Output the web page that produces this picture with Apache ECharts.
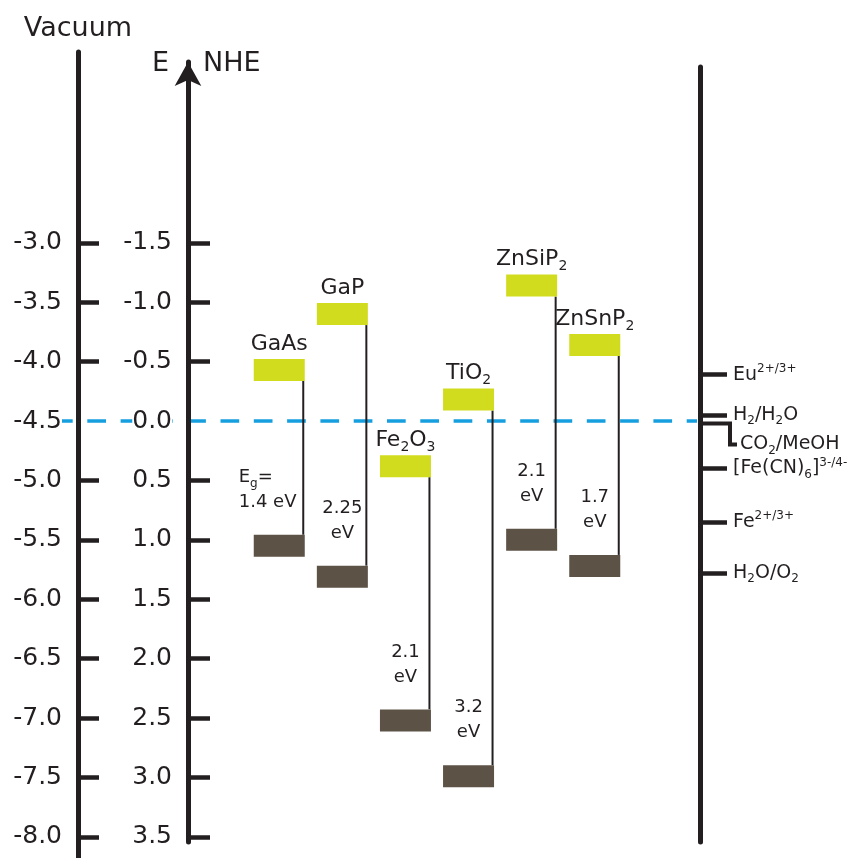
<!DOCTYPE html>
<html><head><meta charset="utf-8">
<script src="https://cdn.jsdelivr.net/npm/echarts@6/dist/echarts.min.js"></script>
<style>html,body{margin:0;padding:0;background:#fff}#c{width:849px;height:858px}</style>
</head><body><div id="c"></div>
<script>
// ---- data (potentials in V vs NHE) ----
const materials = ['GaAs', 'GaP', 'Fe2O3', 'TiO2', 'ZnSiP2', 'ZnSnP2'];
const materialLabels = ['GaAs', 'GaP', 'Fe{s|2}O{s|3}', 'TiO{s|2}', 'ZnSiP{s|2}', 'ZnSnP{s|2}'];
const cbNHE = [-0.43, -0.90, 0.38, -0.18, -1.14, -0.64];
const vbNHE = [1.05, 1.31, 2.52, 2.99, 1.00, 1.22];
const gapEV = ['1.4', '2.25', '2.1', '3.2', '2.1', '1.7'];
const vacuumTicks = [-3.0, -3.5, -4.0, -4.5, -5.0, -5.5, -6.0, -6.5, -7.0, -7.5, -8.0];
const nheTicks = [-1.5, -1.0, -0.5, 0.0, 0.5, 1.0, 1.5, 2.0, 2.5, 3.0, 3.5];
const redoxLabels = ['Eu{sup|2+/3+}', 'H{sub|2}/H{sub|2}O', 'CO{sub|2}/MeOH', '[Fe(CN){sub|6}]{sup|3-/4-}', 'Fe{sup|2+/3+}', 'H{sub|2}O/O{sub|2}'];
const redoxNHE = [-0.39, -0.05, 0.02, 0.40, 0.85, 1.28];
const bracketIndex = 2;          // CO2/MeOH is labelled through a bracket leader
const NHE_OFFSET = -4.5;         // vacuum energy of NHE = 0

// ---- layout helpers ----
const FONT = 'DejaVu Sans';
const INK = '#231f20';
const PX = 118.8, Y0 = 421;      // px per eV, pixel row of NHE 0
const toVac = n => NHE_OFFSET - n;
function vRange(top, bottom) {
  return { min: NHE_OFFSET - (bottom - Y0) / PX, max: NHE_OFFSET + (Y0 - top) / PX };
}
const fmt1 = v => { const r = Math.round(v * 10) / 10; return (Math.abs(r) < 1e-9 ? 0 : r).toFixed(1); };

const grids = [
  { left: 78, top: 52, width: 10, height: 806 },     // vacuum axis
  { left: 188, top: 62, width: 10, height: 780 },    // NHE axis
  { left: 690, top: 67, width: 10, height: 775 },    // redox axis
  { left: 247.7, top: 52, width: 378.6, height: 806 }, // semiconductors
  { left: 54, top: 52, width: 643, height: 806 }     // NHE 0 dashed level
].map(g => Object.assign({ outerBoundsMode: 'none', containLabel: false, show: false }, g));

const rVac = vRange(52, 858), rNhe = vRange(62, 842), rRed = vRange(67, 842);
const vacTickVals = vacuumTicks.filter(v => v !== NHE_OFFSET);
const nheVac = nheTicks.map(toVac);
const nheTickVals = nheTicks.filter(v => v !== 0).map(toVac);
const redoxVac = redoxNHE.map(toVac);
const redoxAxisVals = redoxVac.filter((v, i) => i !== bracketIndex);

const supSub = {
  sup: { fontSize: 12, fontFamily: FONT, color: INK, verticalAlign: 'top', lineHeight: 14 },
  sub: { fontSize: 12, fontFamily: FONT, color: INK, verticalAlign: 'bottom', lineHeight: 6 }
};

const hidden = { show: false };
const option = {
  animation: false,
  grid: grids,
  xAxis: [
    { gridIndex: 0, type: 'value', min: 0, max: 1, show: false },
    { gridIndex: 1, type: 'value', min: 0, max: 1, show: false },
    { gridIndex: 2, type: 'value', min: 0, max: 1, show: false },
    { gridIndex: 3, type: 'category', data: materials, show: false, boundaryGap: true },
    { gridIndex: 4, type: 'value', min: 0, max: 1, show: false }
  ],
  yAxis: [
    {
      gridIndex: 0, type: 'value', min: rVac.min, max: rVac.max, position: 'left', z: 3,
      name: 'Vacuum', nameLocation: 'end', nameGap: 10, nameMoveOverlap: false,
      nameTextStyle: { fontSize: 27, fontFamily: FONT, color: INK, align: 'center' },
      axisLine: { show: true, onZero: false, lineStyle: { color: INK, width: 5 } },
      axisTick: { show: true, inside: true, length: 21, customValues: vacTickVals, lineStyle: { color: INK, width: 4.5 } },
      axisLabel: { show: true, customValues: vacuumTicks, formatter: v => fmt1(v), margin: 16,
        fontSize: 25, fontFamily: FONT, color: INK, backgroundColor: '#fff' },
      splitLine: hidden
    },
    {
      gridIndex: 1, type: 'value', min: rNhe.min, max: rNhe.max, position: 'left', z: 3,
      axisLine: { show: true, onZero: false, symbol: ['none', 'arrow'], symbolSize: [20, 24], lineStyle: { color: INK, width: 5 } },
      axisTick: { show: true, inside: true, length: 22, customValues: nheTickVals, lineStyle: { color: INK, width: 4.5 } },
      axisLabel: { show: true, customValues: nheVac, formatter: v => fmt1(NHE_OFFSET - v), margin: 16,
        fontSize: 25, fontFamily: FONT, color: INK, backgroundColor: '#fff' },
      splitLine: hidden
    },
    {
      gridIndex: 2, type: 'value', min: rRed.min, max: rRed.max, position: 'right', z: 3,
      axisLine: { show: true, onZero: false, lineStyle: { color: INK, width: 5 } },
      axisTick: { show: true, inside: false, length: 27, customValues: redoxAxisVals, lineStyle: { color: INK, width: 4.5 } },
      axisLabel: {
        show: true, customValues: redoxAxisVals, margin: 33, align: 'left',
        fontSize: 19, fontFamily: FONT, color: INK, lineHeight: 24, rich: supSub,
        formatter: v => {
          let j = 0, d = Infinity;
          redoxVac.forEach((r, i) => { if (Math.abs(r - v) < d) { d = Math.abs(r - v); j = i; } });
          return redoxLabels[j];
        }
      },
      splitLine: hidden
    },
    { gridIndex: 3, type: 'value', min: rVac.min, max: rVac.max, show: false, splitLine: hidden },
    { gridIndex: 4, type: 'value', min: rVac.min, max: rVac.max, show: false, splitLine: hidden }
  ],
  graphic: [
    { type: 'text', x: 169, y: 64, z: 10, style: { text: 'E', fill: INK, font: '27px "DejaVu Sans"', align: 'right', verticalAlign: 'middle' } },
    { type: 'text', x: 203, y: 64, z: 10, style: { text: 'NHE', fill: INK, font: '27px "DejaVu Sans"', align: 'left', verticalAlign: 'middle' } }
  ],
  series: [
    {
      type: 'line', xAxisIndex: 4, yAxisIndex: 4, z: 1, silent: true, symbol: 'none',
      data: [[0, NHE_OFFSET], [1, NHE_OFFSET]],
      lineStyle: { color: '#169fdf', width: 3.5, type: [18.7, 14.6] }
    },
    {
      type: 'custom', xAxisIndex: 3, yAxisIndex: 3, z: 2, silent: true,
      data: materials.map((m, i) => [i, toVac(cbNHE[i]), toVac(vbNHE[i])]),
      renderItem: (params, api) => {
        const i = api.value(0);
        const cb = api.coord([i, api.value(1)]);
        const vb = api.coord([i, api.value(2)]);
        const cx = cb[0], hw = 25.5, hh = 11;
        const gapText = i === 0 ? 'E{s|g}=\n' + gapEV[i] + ' eV' : gapEV[i] + '\neV';
        return {
          type: 'group',
          children: [
            { type: 'line', shape: { x1: cx + hw - 1.5, y1: cb[1] + hh, x2: cx + hw - 1.5, y2: vb[1] - hh }, style: { stroke: '#231f20', lineWidth: 2 } },
            { type: 'rect', shape: { x: cx - hw, y: cb[1] - hh, width: 2 * hw, height: 2 * hh }, style: { fill: '#d2dc1e' } },
            { type: 'rect', shape: { x: cx - hw, y: vb[1] - hh, width: 2 * hw, height: 2 * hh }, style: { fill: '#5c5246' } },
            { type: 'text', style: {
                text: materialLabels[i], x: cx, y: cb[1] - hh - 1, align: 'center', verticalAlign: 'bottom',
                fill: INK, fontSize: 22, fontFamily: FONT, lineHeight: 28,
                rich: { s: { fontSize: 14, fontFamily: FONT, fill: INK, verticalAlign: 'bottom', lineHeight: 6 } } } },
            { type: 'text', style: {
                text: gapText, x: i === 0 ? cx - hw - 15 : cx, y: vb[1] - hh - 20,
                align: i === 0 ? 'left' : 'center', verticalAlign: 'bottom',
                fill: INK, fontSize: 18, fontFamily: FONT, lineHeight: 25,
                rich: { s: { fontSize: 12, fontFamily: FONT, fill: INK, verticalAlign: 'bottom', lineHeight: 6 } } } }
          ]
        };
      }
    },
    {
      type: 'custom', xAxisIndex: 2, yAxisIndex: 2, z: 4, silent: true,
      data: [[1, redoxVac[bracketIndex]]],
      renderItem: (params, api) => {
        const p = api.coord([api.value(0), api.value(1)]);
        const x = p[0], y = p[1];
        return {
          type: 'group',
          children: [
            { type: 'polyline', shape: { points: [[x, y], [x + 30, y], [x + 30, y + 21], [x + 37, y + 21]] },
              style: { stroke: INK, lineWidth: 4, fill: null, lineJoin: 'miter' } },
            { type: 'text', style: {
                text: redoxLabels[bracketIndex], x: x + 40, y: y + 21, align: 'left', verticalAlign: 'middle',
                fill: INK, fontSize: 19, fontFamily: FONT, lineHeight: 24,
                rich: { sub: { fontSize: 12, fontFamily: FONT, fill: INK, verticalAlign: 'bottom', lineHeight: 6 } } } }
          ]
        };
      }
    }
  ]
};
const chart = echarts.init(document.getElementById('c'));
chart.setOption(option);
</script>
</body></html>
